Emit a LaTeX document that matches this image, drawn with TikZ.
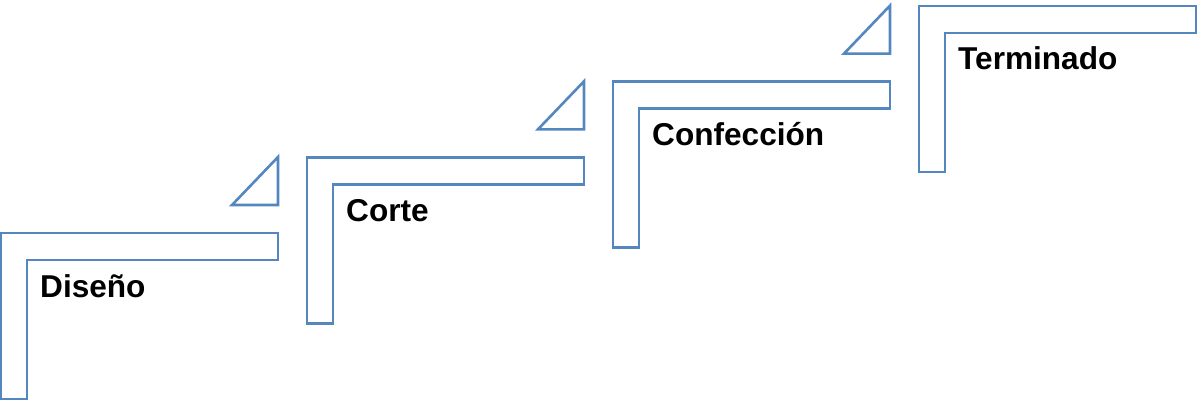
\documentclass[tikz,border=0pt]{standalone}
\usepackage{fontspec}
\setmainfont{Liberation Sans}
\definecolor{stepblue}{RGB}{84,135,192}
\tikzset{
  stair/.style={draw=stepblue, line width=2.6pt, line join=miter, fill=white},
  steplabel/.style={anchor=base west, inner sep=0pt, font=\fontsize{31.6}{36}\selectfont\bfseries, text=black}
}
\begin{document}
\begin{tikzpicture}[x=1pt,y=-1pt]
\useasboundingbox (0,0) rectangle (1198,402);
\foreach \i/\txt/\nm in {0/Diseño/dis,1/Corte/cor,2/Confección/con,3/Terminado/ter}{
  \begin{scope}[shift={(1+306*\i,233-75.7*\i)}]
    % L-shaped stair step
    \draw[stair] (0,0) -- (277,0) -- (277,27) -- (26,27) -- (26,166) -- (0,166) -- cycle;
    % small triangle above the step's end
    \draw[stair] (231,-28) -- (277,-28) -- (277,-76) -- cycle;
    \node[steplabel] (\nm) at (39,64) {\txt};
  \end{scope}
}
\end{tikzpicture}
\end{document}
